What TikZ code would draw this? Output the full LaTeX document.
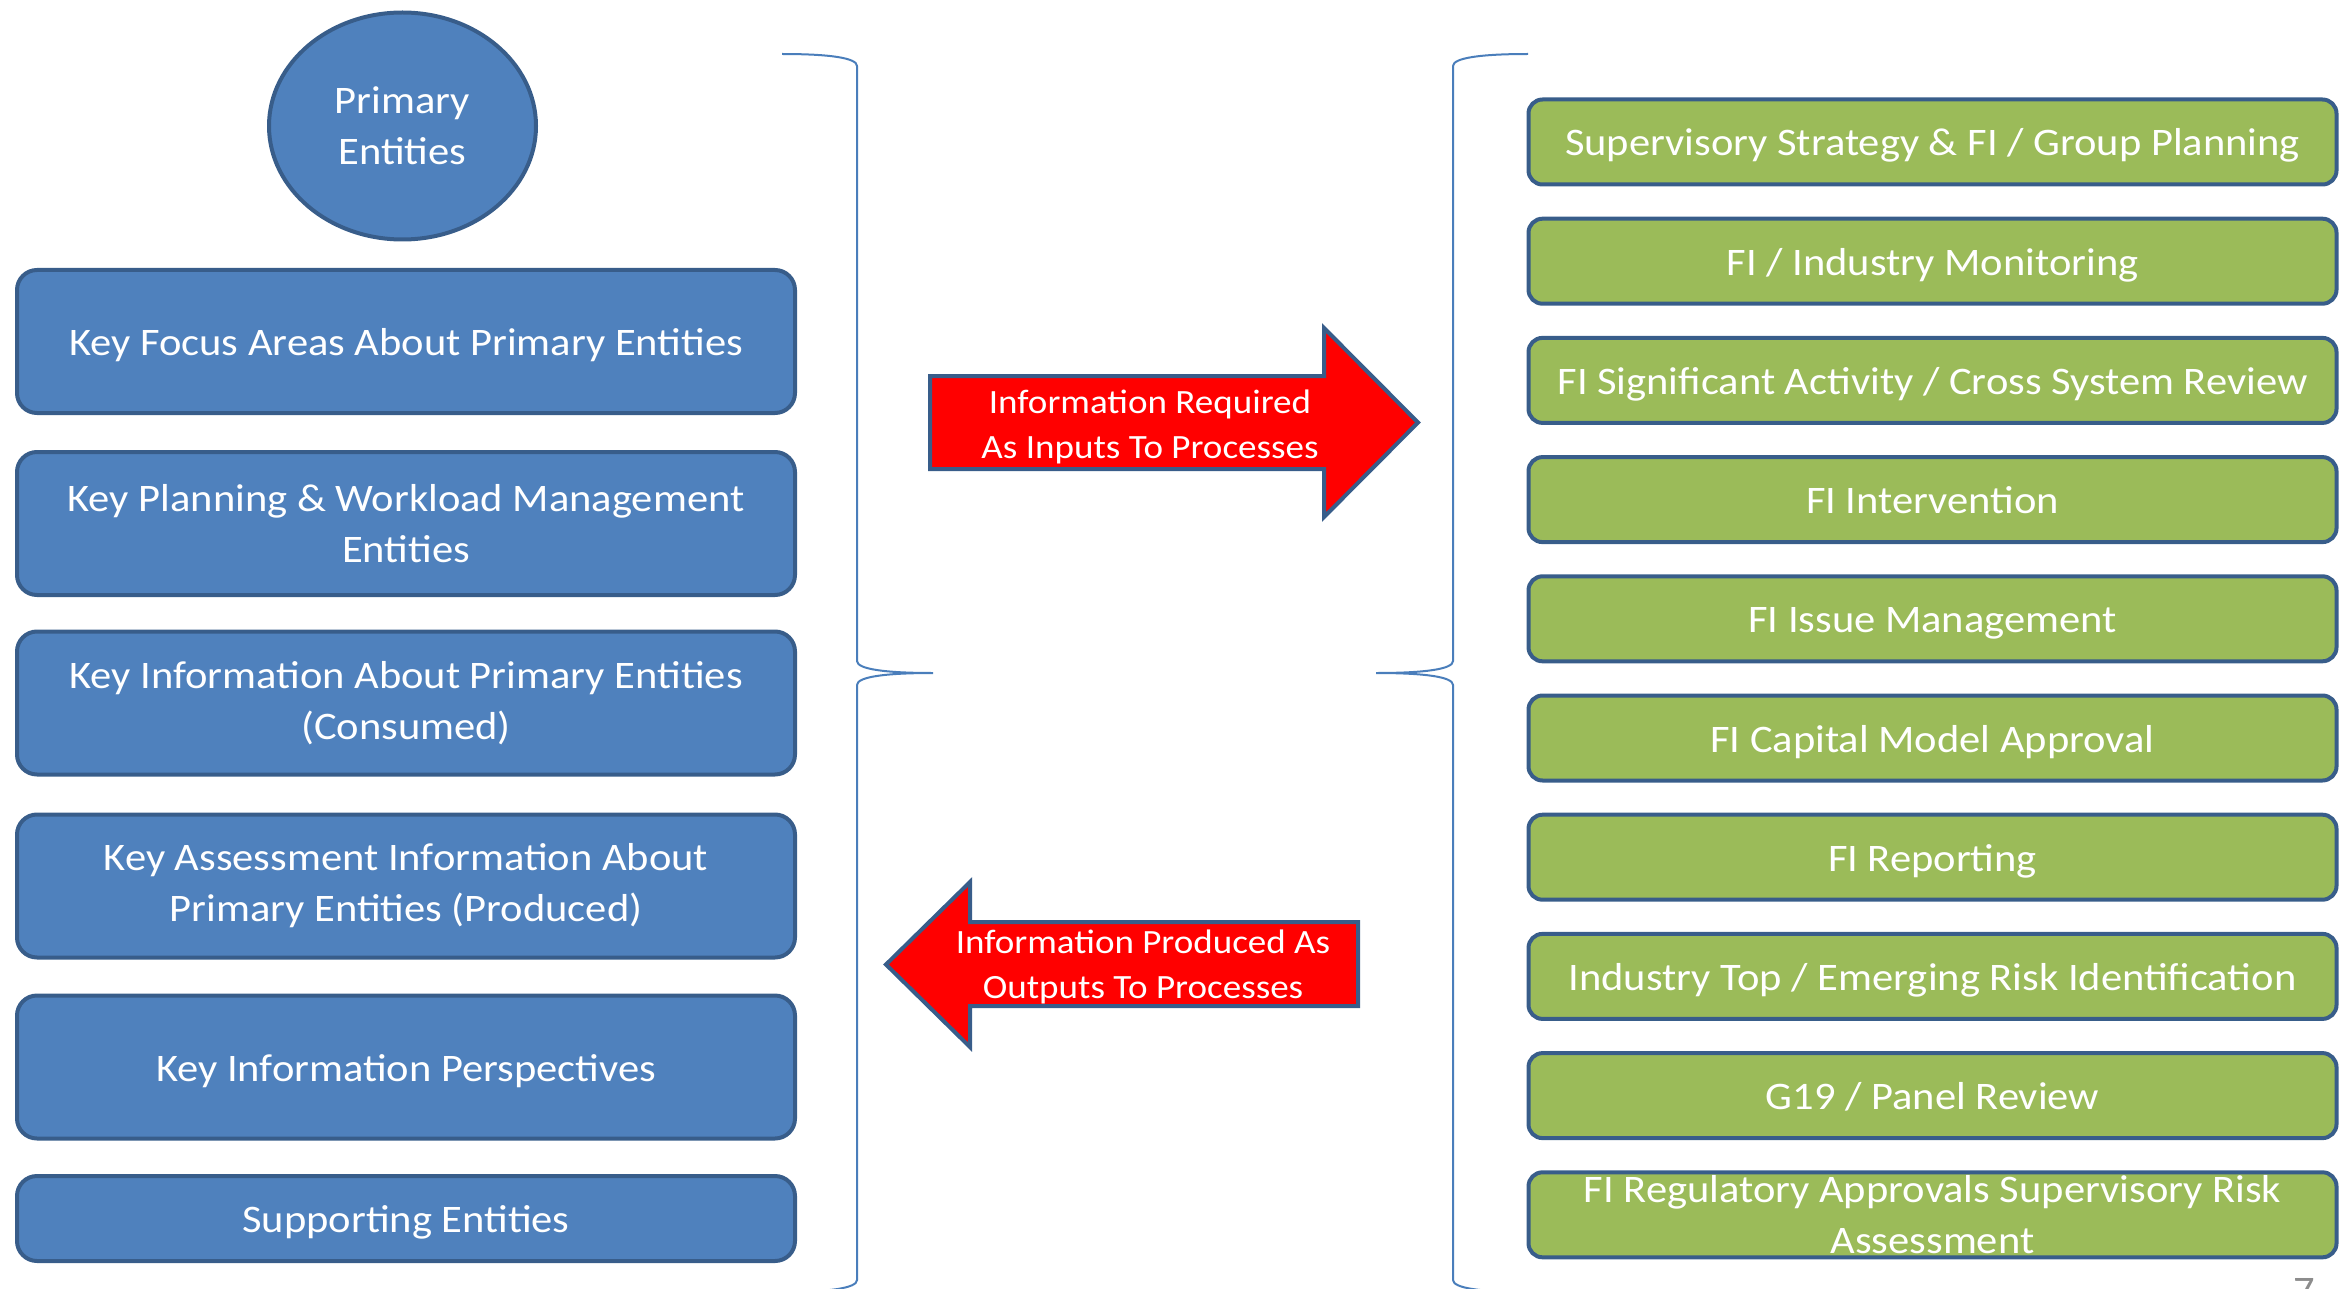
\documentclass[tikz,border=0pt]{standalone}
\usepackage{fontspec}
\setmainfont[FakeStretch=1.09]{Carlito}
\usetikzlibrary{shapes.geometric}
\definecolor{entblue}{HTML}{4F81BD}
\definecolor{entedge}{HTML}{385D8A}
\definecolor{procgreen}{HTML}{9BBB59}
\definecolor{flowred}{HTML}{FF0000}
\definecolor{bracecol}{HTML}{4A7EBB}
\definecolor{pagegray}{HTML}{8C8C8C}
\newcommand\boxtextfont{\fontsize{19.5pt}{25.5pt}\selectfont}
\newcommand\arrowtextfont{\fontsize{17pt}{22.5pt}\selectfont}
\tikzset{
  entitybox/.style={draw=entedge, fill=entblue, line width=2pt, rounded corners=10pt,
    minimum width=389pt, minimum height=71.5pt, inner sep=0pt, text=white,
    align=center, font=\boxtextfont},
  processbox/.style={draw=entedge, fill=procgreen, line width=2pt, rounded corners=7pt,
    minimum width=404pt, minimum height=42.5pt, inner sep=0pt, text=white,
    align=center, font=\boxtextfont},
  oneline/.style={text height=17pt, text depth=3pt},
  flowarrow/.style={draw=entedge, fill=flowred, line width=2pt},
  flowtext/.style={text=white, align=center, font=\arrowtextfont, inner sep=0pt},
  bracket/.style={draw=bracecol, line width=1pt}
}
\begin{document}
\begin{tikzpicture}[x=0.5pt,y=-0.5pt]
\useasboundingbox (0,0) rectangle (2349,1289);
\clip (0,0) rectangle (2349,1289);

% primary entities
\node[ellipse, draw=entedge, fill=entblue, line width=2pt, minimum width=133.5pt,
  minimum height=113.5pt, inner sep=0pt, text=white, align=center, font=\boxtextfont]
  (primary) at (402.5,126) {Primary\\Entities};

% entity groups
\node[entitybox, oneline] (focus) at (406,341.5) {Key Focus Areas About Primary Entities};
\node[entitybox] (planning) at (406,523.5) {Key Planning \& Workload Management\\Entities};
\node[entitybox] (consumed) at (406,703)   {Key Information About Primary Entities\\(Consumed)};
\node[entitybox] (produced) at (406,886)   {Key Assessment Information About\\Primary Entities (Produced)};
\node[entitybox, oneline] (persp) at (406,1067) {Key Information Perspectives};
\node[entitybox, oneline, minimum height=42.5pt] (support) at (406,1218.5) {Supporting Entities};

% supervisory processes
\node[processbox, oneline] (p1)  at (1932.5,142)    {Supervisory Strategy \& FI / Group Planning};
\node[processbox, oneline] (p2)  at (1932.5,261.2)  {FI / Industry Monitoring};
\node[processbox, oneline] (p3)  at (1932.5,380.4)  {FI Significant Activity / Cross System Review};
\node[processbox, oneline] (p4)  at (1932.5,499.6)  {FI Intervention};
\node[processbox, oneline] (p5)  at (1932.5,618.8)  {FI Issue Management};
\node[processbox, oneline] (p6)  at (1932.5,738)    {FI Capital Model Approval};
\node[processbox, oneline] (p7)  at (1932.5,857.2)  {FI Reporting};
\node[processbox, oneline] (p8)  at (1932.5,976.4)  {Industry Top / Emerging Risk Identification};
\node[processbox, oneline] (p9)  at (1932.5,1095.6) {G19 / Panel Review};
\node[processbox] (p10) at (1932.5,1214.8) {FI Regulatory Approvals Supervisory Risk\\Assessment};

% braces grouping both columns
\draw[bracket] (782,54) .. controls (830,54) and (857,58) .. (857,66)
  -- (857,661) .. controls (857,669) and (884,673) .. (933,673)
  .. controls (884,673) and (857,677) .. (857,685)
  -- (857,1280) .. controls (857,1288) and (830,1292) .. (782,1292);
\draw[bracket] (1528,54) .. controls (1480,54) and (1453,58) .. (1453,66)
  -- (1453,661) .. controls (1453,669) and (1426,673) .. (1376,673)
  .. controls (1426,673) and (1453,677) .. (1453,685)
  -- (1453,1280) .. controls (1453,1288) and (1480,1292) .. (1528,1292);

% information flows
\draw[flowarrow] (930,376) -- (1324,376) -- (1324,328) -- (1418,422.5)
  -- (1324,517) -- (1324,469) -- (930,469) -- cycle;
\node[flowtext] (inputs) at (1150,427) {Information Required\\As Inputs To Processes};

\draw[flowarrow] (1358,922) -- (970,922) -- (970,882) -- (886,964.5)
  -- (970,1047) -- (970,1006) -- (1358,1006) -- cycle;
\node[flowtext] (outputs) at (1143,967) {Information Produced As\\Outputs To Processes};

% page number
\node[anchor=north, text=pagegray, font=\boxtextfont, inner sep=0pt] (pagenum) at (2304,1278) {7};
\end{tikzpicture}
\end{document}
